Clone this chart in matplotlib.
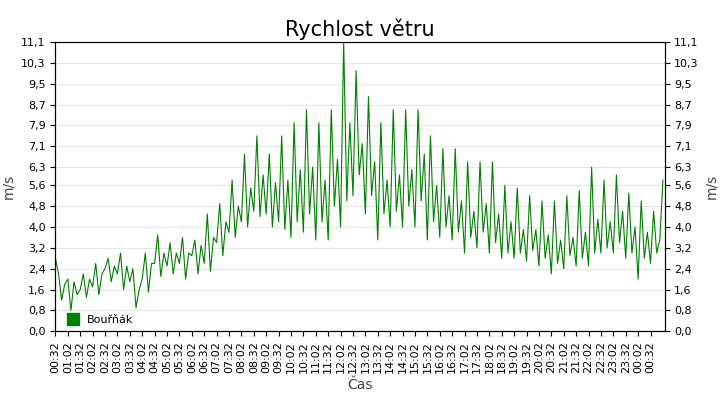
import matplotlib
matplotlib.use("Agg")
import matplotlib.pyplot as plt
from matplotlib.lines import Line2D
import numpy as np

START_MIN = 32  # 00:32
STEP_MIN = 7.5
# wind speed estimates, 4 readings per half-hour from 00:32
SPEED = [
    2.8, 2.2, 1.2, 1.8,   2.0, 0.8, 1.9, 1.4,   1.6, 2.2, 1.3, 2.0,
    1.7, 2.6, 1.4, 2.2,   2.4, 2.8, 1.9, 2.5,   2.2, 3.0, 1.6, 2.5,
    1.9, 2.4, 0.9, 1.6,   2.0, 3.0, 1.5, 2.6,   2.6, 3.7, 2.1, 3.0,
    2.5, 3.4, 2.2, 3.0,   2.6, 3.6, 2.0, 3.0,   2.9, 3.5, 2.2, 3.3,
    2.6, 4.5, 2.3, 3.6,   3.4, 4.9, 2.9, 4.2,   3.8, 5.8, 3.6, 4.8,
    4.2, 6.8, 4.0, 5.5,   4.6, 7.5, 4.4, 6.0,   4.5, 6.8, 4.0, 5.7,
    4.2, 7.5, 3.9, 5.8,   3.6, 8.0, 4.2, 6.2,   3.8, 8.5, 4.5, 6.3,
    3.5, 8.0, 4.2, 5.8,   3.5, 8.5, 4.8, 6.6,   4.0, 11.1, 5.0, 8.0,
    5.2, 10.0, 6.0, 7.2,  4.5, 9.0, 5.2, 6.5,   3.5, 8.0, 4.5, 5.8,
    4.0, 8.5, 4.6, 6.0,   4.0, 8.5, 4.8, 6.2,   4.0, 8.5, 5.0, 6.8,
    3.5, 7.5, 4.2, 5.6,   3.6, 7.0, 4.0, 5.2,   3.5, 7.0, 3.8, 5.0,
    3.0, 6.5, 3.6, 4.6,   3.2, 6.5, 3.8, 4.9,   3.0, 6.5, 3.4, 4.5,
    2.8, 5.6, 3.0, 4.2,   2.8, 5.5, 3.0, 3.9,   2.7, 5.2, 3.1, 3.9,
    2.5, 5.0, 2.8, 3.7,   2.2, 5.0, 2.6, 3.5,   2.4, 5.2, 2.9, 3.6,
    2.5, 5.4, 2.8, 3.8,   2.5, 6.3, 3.0, 4.3,   3.0, 5.8, 3.2, 4.2,
    3.0, 6.0, 3.4, 4.6,   2.8, 5.3, 3.0, 4.0,   2.0, 5.0, 2.8, 3.8,
    2.6, 4.6, 3.0, 3.5,   5.8,
]
Y_TICKS = [0.0, 0.8, 1.6, 2.4, 3.2, 4.0, 4.8, 5.6, 6.3, 7.1, 7.9, 8.7, 9.5, 10.3, 11.1]

minutes = START_MIN + np.arange(len(SPEED)) * STEP_MIN
fig, ax = plt.subplots(figsize=(7.2, 4.0), dpi=100)
fig.subplots_adjust(left=0.077, right=0.923, top=0.895, bottom=0.172)
ax.plot(minutes, SPEED, color="#008000", lw=0.8)

ax.set_xlim(START_MIN, START_MIN + 1440 + 34)
ax.set_ylim(0, 11.1)
tick_pos = [START_MIN + 30 * i for i in range(49)]
tick_lab = [f"{(m // 60) % 24:02d}:{m % 60:02d}" for m in tick_pos]
ax.set_xticks(tick_pos)
ax.set_xticklabels(tick_lab, rotation=90, fontsize=8)
ytl = [f"{v:.1f}".replace(".", ",") for v in Y_TICKS]
ax.set_yticks(Y_TICKS)
ax.set_yticklabels(ytl, fontsize=8)
ax.grid(axis="y", color="#e6e6e6", lw=0.8)
ax.set_axisbelow(True)
ax.set_ylabel("m/s", fontsize=10, color="#444444")
ax.set_xlabel("Čas", fontsize=10, color="#444444")
ax.set_title("Rychlost větru", fontsize=15, pad=4)

ax2 = ax.twinx()
ax2.set_ylim(0, 11.1)
ax2.set_yticks(Y_TICKS)
ax2.set_yticklabels(ytl, fontsize=8)
ax2.set_ylabel("m/s", fontsize=10, color="#444444")

handle = Line2D([], [], color="#008000", marker="s", ls="none", markersize=8)
ax.legend([handle], ["Bouřňák"], loc="lower left", frameon=False, fontsize=8,
          handletextpad=0.2, borderaxespad=0.2)

fig.savefig("out.png", dpi=100)
